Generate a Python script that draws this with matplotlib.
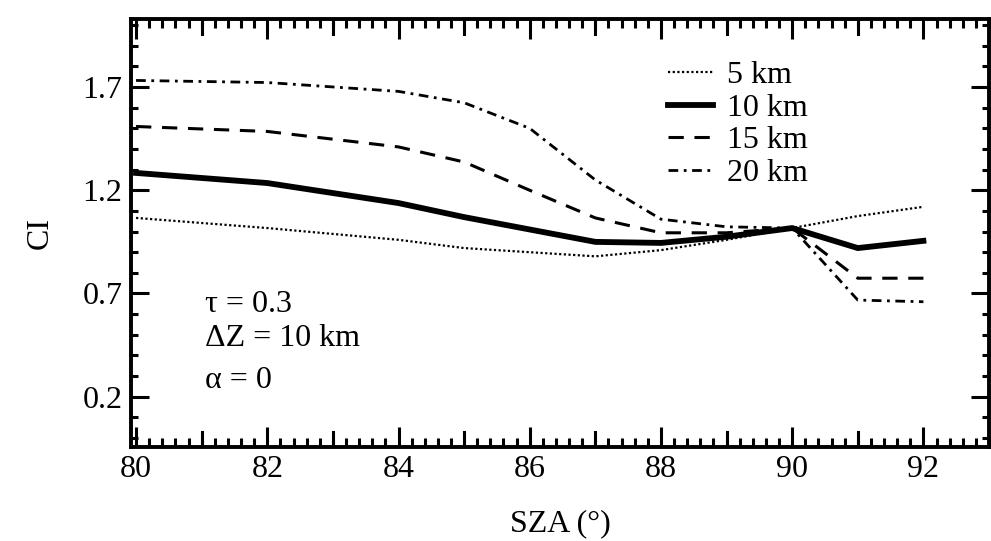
import numpy as np
import matplotlib
matplotlib.use("Agg")
import matplotlib.pyplot as plt
from matplotlib.ticker import MultipleLocator

# SZA (deg)
sza = [80, 82, 84, 85, 86, 87, 88, 89, 90, 91, 92]

ci_5km  = [1.066, 1.017, 0.960, 0.920, 0.900, 0.880, 0.910, 0.960, 1.017, 1.075, 1.120]
ci_10km = [1.284, 1.235, 1.138, 1.070, 1.010, 0.950, 0.945, 0.975, 1.017, 0.920, 0.955]
ci_15km = [1.509, 1.485, 1.410, 1.337, 1.200, 1.066, 0.994, 0.994, 1.017, 0.774, 0.774]
ci_20km = [1.732, 1.722, 1.679, 1.624, 1.500, 1.250, 1.060, 1.023, 1.017, 0.668, 0.660]

labels = ["5 km", "10 km", "15 km", "20 km"]
notes = ["\u03c4 = 0.3", "\u0394Z = 10 km", "\u03b1 = 0"]

plt.rcParams['font.family'] = ['Liberation Serif', 'DejaVu Serif']
plt.rcParams['font.size'] = 23

fig = plt.figure(figsize=(9.91, 5.41), dpi=100)
ax = fig.add_axes([0.132, 0.174, 0.866, 0.791])

ax.plot(sza, ci_5km, color="black", lw=1.6, linestyle=(0, (1, 1.1)), label=labels[0])
ax.plot(sza, ci_10km, color="black", lw=4.2, linestyle="-", label=labels[1])
ax.plot(sza, ci_15km, color="black", lw=2.2, linestyle=(0, (5, 3.5)), label=labels[2])
ax.plot(sza, ci_20km, color="black", lw=2.0, linestyle=(0, (3.5, 2, 1, 2)), label=labels[3])

ax.set_xlim(79.92, 93)
ax.set_ylim(-0.043, 2.03)

ax.set_xticks([80, 82, 84, 86, 88, 90, 92])
ax.set_yticks([0.2, 0.7, 1.2, 1.7])
ax.set_yticklabels(["0.2", "0.7", "1.2", "1.7"])
ax.xaxis.set_minor_locator(MultipleLocator(0.2))
ax.yaxis.set_minor_locator(MultipleLocator(0.1))

ax.tick_params(which="both", direction="in", top=True, right=True, width=2.2, colors="black")
ax.tick_params(axis="x", which="major", length=14.5, labelsize=23, pad=6)
ax.tick_params(axis="x", which="minor", length=6.5)
ax.tick_params(axis="y", which="major", length=13, labelsize=23, pad=6)
ax.tick_params(axis="y", which="minor", length=5)

# medium ticks at odd degrees
med = 15 / (0.791 * 541)
for xv in [81, 83, 85, 87, 89, 91]:
    ax.axvline(xv, ymin=0, ymax=med, color="black", lw=2.2)
    ax.axvline(xv, ymin=1 - med, ymax=1, color="black", lw=2.2)

for sp in ax.spines.values():
    sp.set_linewidth(2.8)

ax.set_xlabel("SZA (\u00b0)", fontsize=23, labelpad=18)
ax.set_ylabel("CI", fontsize=23, labelpad=20)

ax.legend(loc="upper left", bbox_to_anchor=(652 / 991, 1 - 45 / 541),
          bbox_transform=fig.transFigure, frameon=False, fontsize=23,
          handlelength=1.4, handletextpad=0.45, labelspacing=0.1, borderpad=0)

for i, t in enumerate(notes):
    ax.text(205 / 991, 1 - [305, 338, 380][i] / 541, t, transform=fig.transFigure,
            fontsize=23, va="center", ha="left")

plt.savefig("out.png", dpi=100)
